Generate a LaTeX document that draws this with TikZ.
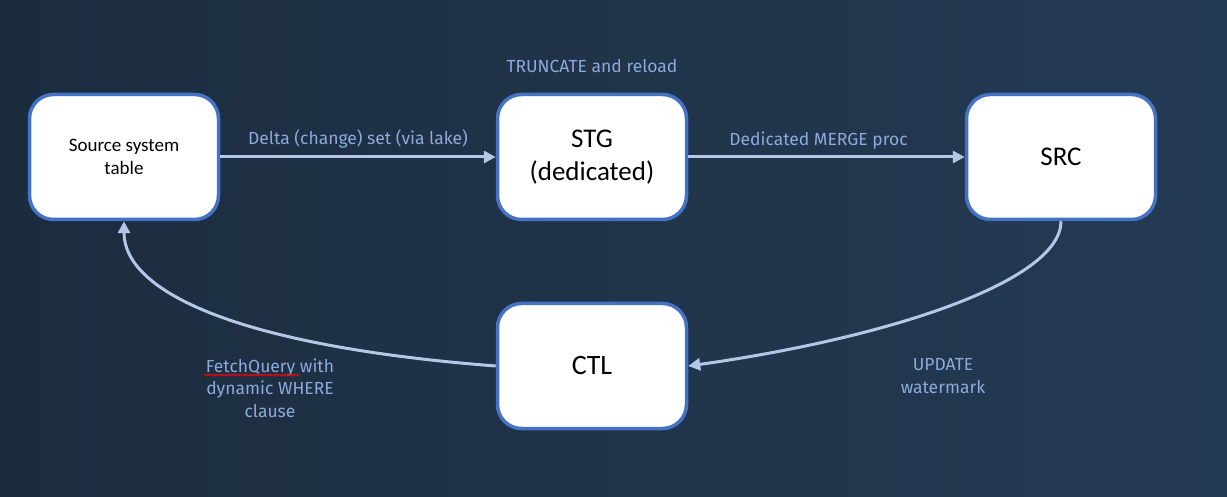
\documentclass[tikz,border=0pt]{standalone}
\usepackage{fontspec}
\setmainfont{Carlito}
\newfontfamily\labelfont{Fira Sans}
\usetikzlibrary{arrows.meta,decorations.pathmorphing,calc}

\definecolor{bgleft}{RGB}{28,44,63}
\definecolor{bgright}{RGB}{36,59,84}
\definecolor{boxline}{RGB}{68,114,196}
\definecolor{arrowc}{RGB}{180,199,231}
\definecolor{lbltext}{RGB}{142,169,219}

\begin{document}
\begin{tikzpicture}[x=1pt,y=1pt,->,>={Triangle[length=12pt,width=12pt]},
    box/.style={rectangle,
                draw=boxline,
                line width=3.5pt,
                fill=white,
                rounded corners=24pt,
                minimum width=189pt,
                minimum height=125pt,
                align=center,
                text=black},
    flowline/.style={draw=arrowc, line width=3pt},
    lbl/.style={font=\labelfont\fontsize{17.5}{22.5}\selectfont,
                text=lbltext,
                align=center}]

    % background
    \fill[-, left color=bgleft, right color=bgright] (0,0) rectangle (1227,496);

    \node[box, font=\fontsize{19}{23.5}\selectfont] (srcsys) at (124,339) {Source system\\table};
    \node[box, font=\fontsize{27}{33}\selectfont] (stg) at (592,339) {STG\\(dedicated)};
    \node[box, font=\fontsize{27}{33}\selectfont] (src) at (1061,339) {SRC};
    \node[box, font=\fontsize{28}{33}\selectfont] (ctl) at (592,130) {CTL};

    \node[lbl] (trunc) at (592,430) {TRUNCATE and reload};
    \node[lbl] (upd) at (943,120) {UPDATE\\watermark};
    \node[lbl] (fetch) at (270,108) {FetchQuery with\\dynamic WHERE\\clause};

    \path[every node/.style={lbl}]
    (srcsys) edge [flowline] node [midway, yshift=18pt] {Delta (change) set (via lake)} (stg)
    (stg) edge [flowline] node [midway, yshift=16pt, xshift=-8pt] {Dedicated MERGE proc} (src);

    % return loop
    \draw[flowline] (src.south) .. controls +(0,-60) and +(200,28) .. (ctl.east);
    \draw[flowline] (ctl.west) .. controls +(-260,20) and +(0,-70) .. (srcsys.south);

    % spell-check mark
    \draw[-, red, line width=0.8pt, decorate,
          decoration={snake, amplitude=0.9pt, segment length=3pt}]
        ($(fetch.center)+(-66,13)$) -- ($(fetch.center)+(30,13)$);

\end{tikzpicture}
\end{document}
